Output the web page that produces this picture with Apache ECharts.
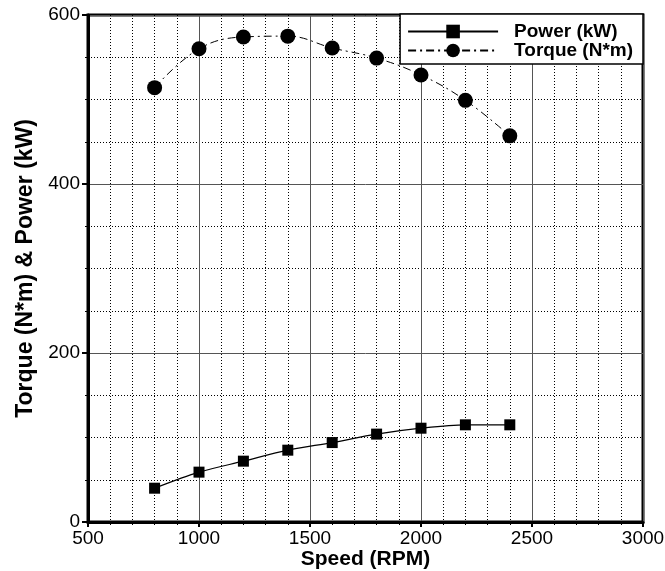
<!DOCTYPE html>
<html><head><meta charset="utf-8">
<script src="https://cdn.jsdelivr.net/npm/echarts@6/dist/echarts.min.js"></script>
<style>html,body{margin:0;padding:0;background:#fff}#c{width:665px;height:571px}</style>
</head><body><div id="c"></div>
<script>
const speed = [800, 1000, 1200, 1400, 1600, 1800, 2000, 2200, 2400];
const power = [40, 59, 72, 85, 94, 104, 111, 115, 115];
const torque = [514, 560, 574, 575, 561, 549, 529, 499, 457];
const xTicks = [500, 1000, 1500, 2000, 2500, 3000];
const yTicks = [0, 200, 400, 600];

const chart = echarts.init(document.getElementById('c'));
const font = 'Liberation Sans, Arial, Helvetica, sans-serif';
chart.setOption({
  animation: false,
  grid: {left: 88, right: 22, top: 15, bottom: 49, show: true, borderColor: '#000', borderWidth: 3,
         containLabel: false, outerBoundsMode: 'none'},
  xAxis: {
    type: 'value', min: xTicks[0], max: xTicks[xTicks.length-1], interval: 500,
    name: 'Speed (RPM)', nameLocation: 'middle', nameGap: 27, nameMoveOverlap: false,
    nameTextStyle: {fontFamily: font, fontWeight: 'bold', fontSize: 21, color: '#000'},
    axisLine: {lineStyle: {color: '#000', width: 3}},
    axisTick: {show: true, length: 5, lineStyle: {color: '#000', width: 2}},
    axisLabel: {fontFamily: font, fontSize: 19, color: '#000', margin: 7, formatter: v => String(v)},
    splitLine: {show: true, lineStyle: {color: '#555', width: 1}},
    minorTick: {show: true, splitNumber: 5, length: 3, lineStyle: {color: '#000', width: 1}},
    minorSplitLine: {show: true, lineStyle: {color: '#000', width: 1, type: [1, 2]}}
  },
  yAxis: {
    type: 'value', min: yTicks[0], max: yTicks[yTicks.length-1], interval: 200,
    name: 'Torque (N*m) & Power (kW)', nameLocation: 'middle', nameGap: 51, nameMoveOverlap: false,
    nameTextStyle: {fontFamily: font, fontWeight: 'bold', fontSize: 23, color: '#000'},
    axisLine: {show: true, lineStyle: {color: '#000', width: 3}},
    axisTick: {show: true, length: 6, lineStyle: {color: '#000', width: 2}},
    axisLabel: {fontFamily: font, fontSize: 19, color: '#000', margin: 8, formatter: v => String(v)},
    splitLine: {show: true, lineStyle: {color: '#555', width: 1}},
    minorTick: {show: true, splitNumber: 4, length: 3, lineStyle: {color: '#000', width: 1}},
    minorSplitLine: {show: true, lineStyle: {color: '#000', width: 1, type: [1, 2]}}
  },
  legend: {
    right: 22, top: 14, orient: 'vertical', itemGap: 0, itemWidth: 90, itemHeight: 17,
    padding: [8, 10, 4, 7],
    backgroundColor: '#fff', borderColor: '#000', borderWidth: 1.5, borderRadius: 0,
    textStyle: {fontFamily: font, fontWeight: 'bold', fontSize: 19, lineHeight: 19, color: '#000',
                padding: [0, 0, 0, 11]},
    data: ['Power (kW)', 'Torque (N*m)']
  },
  series: [
    {name: 'Power (kW)', type: 'line', data: speed.map((s,i)=>[s, power[i]]), smooth: 0.3,
     symbol: 'rect', symbolSize: 11, itemStyle: {color: '#000'},
     lineStyle: {color: '#000', width: 1.2}, z: 3},
    {name: 'Torque (N*m)', type: 'line', data: speed.map((s,i)=>[s, torque[i]]), smooth: 0.4,
     symbol: 'circle', symbolSize: 15, itemStyle: {color: '#000'},
     lineStyle: {color: '#000', width: 1, type: [8, 4, 2, 4]}, z: 3}
  ]
});
</script></body></html>
